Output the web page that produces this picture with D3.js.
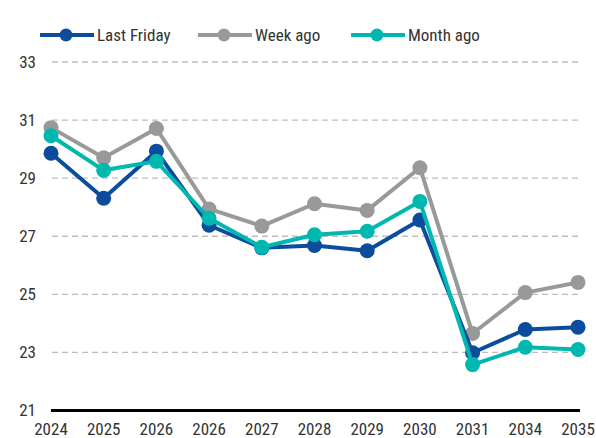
<!DOCTYPE html>
<html>
<head>
<meta charset="UTF-8">
<script src="https://d3js.org/d3.v7.min.js"></script>
<style>
  body { margin: 0; background: #fff; }
  text { font-family: "Liberation Sans Narrow", "Arial Narrow", "Roboto Condensed", "Liberation Sans", sans-serif; fill: #333; }
</style>
</head>
<body>
<div id="chart"></div>
<script>
  // data
  const years = ["2024", "2025", "2026", "2026 ", "2027", "2028", "2029", "2030", "2031", "2034", "2035"];
  const lastFriday = [29.86, 28.31, 29.93, 27.38, 26.6, 26.68, 26.5, 27.56, 22.99, 23.79, 23.87];
  const weekAgo    = [30.74, 29.70, 30.71, 27.94, 27.35, 28.12, 27.89, 29.36, 23.65, 25.06, 25.41];
  const monthAgo   = [30.46, 29.27, 29.58, 27.62, 26.62, 27.05, 27.17, 28.20, 22.58, 23.18, 23.10];
  const yTicks = [21, 23, 25, 27, 29, 31, 33];

  const series = [
    {name: "Week ago", values: weekAgo, color: "#999999"},
    {name: "Last Friday", values: lastFriday, color: "#0b4c9c"},
    {name: "Month ago", values: monthAgo, color: "#00b8b0"}
  ];
  const legendOrder = ["Last Friday", "Week ago", "Month ago"];

  const W = 596, H = 438;
  const svg = d3.select("#chart").append("svg").attr("width", W).attr("height", H);

  const x = d3.scalePoint().domain(years).range([51, 578]);
  const y = d3.scaleLinear().domain([21, 33]).range([410.5, 62]);

  // grid lines
  svg.append("g").selectAll("line")
    .data(yTicks.filter(d => d > 21))
    .enter().append("line")
    .attr("x1", 52).attr("x2", 580)
    .attr("y1", d => y(d)).attr("y2", d => y(d))
    .attr("stroke", "#bdbdbd").attr("stroke-width", 1.3)
    .attr("stroke-dasharray", "6,4");

  // y labels
  svg.append("g").selectAll("text")
    .data(yTicks)
    .enter().append("text")
    .attr("x", 36).attr("y", d => y(d))
    .attr("dy", "0.35em")
    .attr("text-anchor", "end")
    .style("font-size", "17px")
    .text(d => d);

  // baseline
  svg.append("line")
    .attr("x1", 51).attr("x2", 580)
    .attr("y1", y(21)).attr("y2", y(21))
    .attr("stroke", "#000").attr("stroke-width", 3);

  // x labels
  svg.append("g").selectAll("text")
    .data(years)
    .enter().append("text")
    .attr("x", d => x(d)).attr("y", 435)
    .attr("text-anchor", "middle")
    .style("font-size", "17px")
    .text(d => d.trim());

  const line = d3.line().x((d, i) => x(years[i])).y(d => y(d));

  series.forEach(s => {
    svg.append("path")
      .datum(s.values)
      .attr("fill", "none")
      .attr("stroke", s.color)
      .attr("stroke-width", 4)
      .attr("stroke-linejoin", "round")
      .attr("d", line);
    svg.append("g").selectAll("circle")
      .data(s.values)
      .enter().append("circle")
      .attr("cx", (d, i) => x(years[i]))
      .attr("cy", d => y(d))
      .attr("r", 7.5)
      .attr("fill", s.color);
  });

  // legend
  const legendX = [40, 198, 351];
  const legend = svg.append("g");
  legendOrder.forEach((name, i) => {
    const s = series.find(d => d.name === name);
    const g = legend.append("g").attr("transform", `translate(${legendX[i]},35)`);
    g.append("line").attr("x1", 0).attr("x2", 54).attr("y1", 0).attr("y2", 0)
      .attr("stroke", s.color).attr("stroke-width", 4);
    g.append("circle").attr("cx", 26).attr("cy", 0).attr("r", 6.5).attr("fill", s.color);
    g.append("text").attr("x", 57).attr("y", 0).attr("dy", "0.35em")
      .style("font-size", "17px").text(name);
  });
</script>
</body>
</html>
